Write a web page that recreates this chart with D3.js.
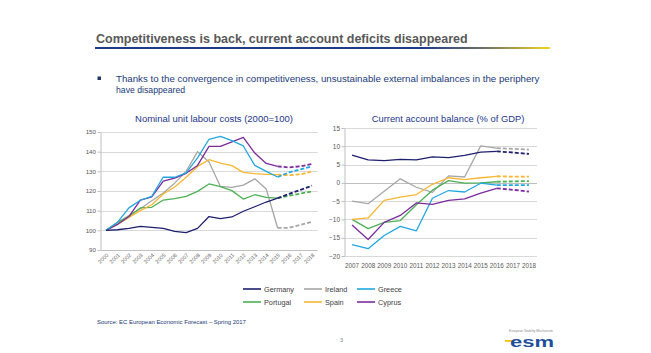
<!DOCTYPE html>
<html><head><meta charset="utf-8">
<script src="https://cdn.jsdelivr.net/npm/d3@7/dist/d3.min.js"></script>
<style>
html,body{margin:0;padding:0;background:#fff;}
svg{display:block;}
</style></head><body>
<svg id="c" width="651" height="353"></svg>
<script>
// ---------- DATA ----------
const titleText = "Competitiveness is back, current account deficits disappeared";
const bulletLines = ["Thanks to the convergence in competitiveness, unsustainable external imbalances in the periphery", "have disappeared"];
const sourceText = "Source: EC European Economic Forecast \u2013 Spring 2017";

const countries = ["Germany","Ireland","Greece","Portugal","Spain","Cyprus"];
const countryColors = ["#1E1F6E","#A6A6A6","#22A7DF","#4CB155","#F8B632","#7A2C9C"];

// Nominal unit labour costs (2000=100)
const ulcYears = ["2000","2001","2002","2003","2004","2005","2006","2007","2008","2009","2010","2011","2012","2013","2014","2015","2016","2017","2018"];
const ulcTicks = [90,100,110,120,130,140,150];
const ulcGermany  = [100,100.3,101,102,101.5,101,99.5,98.8,101,107,106,106.8,109.7,112,114.4,116.4,118.5,120.6,122.7];
const ulcIreland  = [100,104,107.5,111,115,119,124,130,140,134.7,122.3,121.8,123,126.2,121,101.2,101.3,102.8,104.3];
const ulcGreece   = [100,104,111.4,115.3,117.3,127.1,127,129.2,136.8,146.3,147.8,145.6,142.9,133,130,127.1,129.5,131,132.5];
const ulcPortugal = [100,104,107,111.4,111.7,115.4,116.1,117.3,119.8,123.6,122.2,120.2,115.9,118.1,116.8,116.4,117.6,118.7,119.8];
const ulcSpain    = [100,103,106.5,110,113,118.5,122,127,132.5,135.9,134.2,132.9,129.5,128.8,128.5,128.3,128,128.5,130];
const ulcCyprus   = [100,103,107,115.3,117,125,126.5,129,133,142.7,142.7,145,147.3,139.3,134,132.5,132,132.6,133.7];
const ulcForecastFrom = "2015";

// Current account balance (% of GDP)
const caYears = ["2007","2008","2009","2010","2011","2012","2013","2014","2015","2016","2017","2018"];
const caTicks = [-20,-15,-10,-5,0,5,10,15];
const caGermany  = [7.6,6.3,6.1,6.4,6.3,7.1,6.9,7.5,8.4,8.6,8.3,7.9];
const caIreland  = [-5.0,-5.7,-2.3,1.1,-1.2,-2.6,1.9,1.6,10.1,9.5,9.3,9.1];
const caGreece   = [-16.9,-18.0,-14.4,-11.9,-13.1,-4.2,-2.1,-2.5,-0.1,-0.6,-0.6,-0.6];
const caPortugal = [-10.0,-12.5,-10.8,-10.3,-6.0,-2.0,0.6,-0.1,0.0,0.3,0.4,0.5];
const caSpain    = [-10.0,-9.6,-4.8,-3.9,-3.2,-0.4,1.4,0.9,1.4,1.8,1.7,1.7];
const caCyprus   = [-11.5,-15.5,-10.8,-8.9,-5.5,-5.9,-4.8,-4.4,-2.8,-1.5,-1.9,-2.4];
const caForecastFrom = "2016";

// ---------- DRAW ----------
const FONT = '"Liberation Sans", Arial, Helvetica, sans-serif';
const svg = d3.select("#c").attr("font-family", FONT);

function fit(sel, w){
  const cur = sel.node().getComputedTextLength();
  const fs = parseFloat(sel.attr("font-size"));
  sel.attr("font-size", (fs*w/cur).toFixed(2));
}

// Title + underline
const tt = svg.append("text").attr("x",96).attr("y",43).attr("font-size",13)
  .attr("font-weight","bold").attr("fill","#595959").text(titleText);
fit(tt, 372);
const defs = svg.append("defs");
const grad = defs.append("linearGradient").attr("id","ul").attr("x1","0").attr("x2","1").attr("y1","0").attr("y2","0");
[[0,"#1F3A8A"],[0.72,"#1F3A8A"],[0.86,"#6F7464"],[1,"#F6D51F"]].forEach(s=>grad.append("stop").attr("offset",s[0]).attr("stop-color",s[1]));
svg.append("rect").attr("x",95).attr("y",47).attr("width",455).attr("height",2).attr("fill","url(#ul)");

// Bullet
svg.append("rect").attr("x",97.5).attr("y",76.5).attr("width",3.5).attr("height",3.5).attr("fill","#1F3864");
bulletLines.forEach((l,i)=>{
  const t = svg.append("text").attr("x",116).attr("y",82+i*11).attr("font-size",8.7).attr("fill","#223A78").text(l);
  if(i===0) fit(t, 423);
});

function drawPanel(p){
  const x = d3.scaleBand().domain(p.cats).range([p.x0,p.x1]).padding(0);
  const y = d3.scaleLinear().domain(p.domain).range([p.yBot,p.yTop]);
  const cx = c => x(c)+x.bandwidth()/2;
  const g = svg.append("g");

  // title
  const t = g.append("text").attr("x",p.titleX).attr("y",p.titleY).attr("text-anchor","middle")
    .attr("font-size",9).attr("fill","#24368A").text(p.title);
  fit(t, p.titleW);

  // gridlines
  g.append("g").selectAll("line").data(p.ticks).join("line")
    .attr("x1",p.x0).attr("x2",p.x1).attr("y1",d=>Math.round(y(d))+0.5).attr("y2",d=>Math.round(y(d))+0.5)
    .attr("stroke", d => d===p.axisAt ? "#BFBFBF" : "#D9D9D9").attr("stroke-width",1);

  // y axis
  const ya = g.append("g").attr("transform",`translate(${Math.round(p.x0)+0.5},0)`)
    .call(d3.axisLeft(y).tickValues(p.ticks).tickSize(3).tickPadding(1.5).tickSizeOuter(0));
  ya.select(".domain").attr("stroke","#BFBFBF");
  ya.selectAll(".tick line").attr("stroke","#BFBFBF");
  ya.selectAll("text").attr("font-size",p.yfs).attr("fill","#595959").attr("font-family",FONT);

  // x axis labels
  const xa = g.append("g").attr("transform",`translate(0,${y(p.labelAt)})`)
    .call(d3.axisBottom(x).tickSize(0).tickPadding(p.xPad));
  xa.select(".domain").remove();
  xa.selectAll("text").attr("font-size",p.xfs).attr("fill","#595959").attr("font-family",FONT);
  if(p.rotate){
    xa.selectAll("text").attr("y",0).attr("dy",0).attr("text-anchor","end")
      .attr("transform","translate(2.8,5.5) rotate(-45)");
  }

  // series lines
  const fi = p.cats.indexOf(p.fcFrom);
  const line = d3.line().x(d=>cx(d.c)).y(d=>y(d.v));
  p.order.forEach(k=>{
    const vals = p.series[k].map((v,i)=>({c:p.cats[i], v}));
    g.append("path").attr("d",line(vals.slice(0,fi+1))).attr("fill","none")
      .attr("stroke",countryColors[k]).attr("stroke-width",1.3).attr("stroke-linejoin","round");
    g.append("path").attr("d",line(vals.slice(fi))).attr("fill","none")
      .attr("stroke",countryColors[k]).attr("stroke-width",1.8).attr("stroke-dasharray","4,2");
  });
}

drawPanel({
  cats: ulcYears, domain:[90,150], ticks: ulcTicks, x0:100.3, x1:317.7, yTop:132, yBot:250,
  title:"Nominal  unit labour costs (2000=100)", titleX:214, titleY:122, titleW:158,
  axisAt:90, labelAt:90, xPad:0, xfs:5.4, yfs:6.2, rotate:true, fcFrom: ulcForecastFrom,
  series:[ulcGermany,ulcIreland,ulcGreece,ulcPortugal,ulcSpain,ulcCyprus],
  order:[1,3,4,5,2,0]
});

drawPanel({
  cats: caYears, domain:[-20,15], ticks: caTicks, x0:344, x1:537, yTop:128, yBot:256,
  title:"Current account balance (% of GDP)", titleX:448, titleY:122, titleW:153,
  axisAt:0, labelAt:-20, xPad:7.5, xfs:6.3, yfs:6.5, rotate:false, fcFrom: caForecastFrom,
  series:[caGermany,caIreland,caGreece,caPortugal,caSpain,caCyprus],
  order:[1,3,4,2,5,0]
});

// Legend
const legX = [243, 304, 357];
const legY = [289, 302];
countries.forEach((c,i)=>{
  const col = i%3, row = Math.floor(i/3);
  svg.append("line").attr("x1",legX[col]).attr("x2",legX[col]+18).attr("y1",legY[row]).attr("y2",legY[row])
    .attr("stroke",countryColors[i]).attr("stroke-width",1.6);
  svg.append("text").attr("x",legX[col]+21).attr("y",legY[row]+2.6).attr("font-size",7.3)
    .attr("fill","#404040").text(c);
});

// Source
const st = svg.append("text").attr("x",97).attr("y",324).attr("font-size",6).attr("fill","#223A78").text(sourceText);
fit(st, 149);

// Page number
svg.append("text").attr("x",340).attr("y",342).attr("font-size",5.5).attr("fill","#7F7F7F").text("3");

// Logo
svg.append("text").attr("x",509).attr("y",332).attr("font-size",2.8).attr("fill","#8C8C8C")
  .attr("textLength",44).attr("lengthAdjust","spacingAndGlyphs").text("European Stability Mechanism");
svg.append("rect").attr("x",505).attr("y",340).attr("width",9).attr("height",1.8).attr("fill","#F2C200");
svg.append("text").attr("x",510).attr("y",347).attr("font-size",15).attr("font-weight","bold").attr("fill","#1F4E9A")
  .attr("textLength",44).attr("lengthAdjust","spacingAndGlyphs").text("esm");
</script>
</body></html>
